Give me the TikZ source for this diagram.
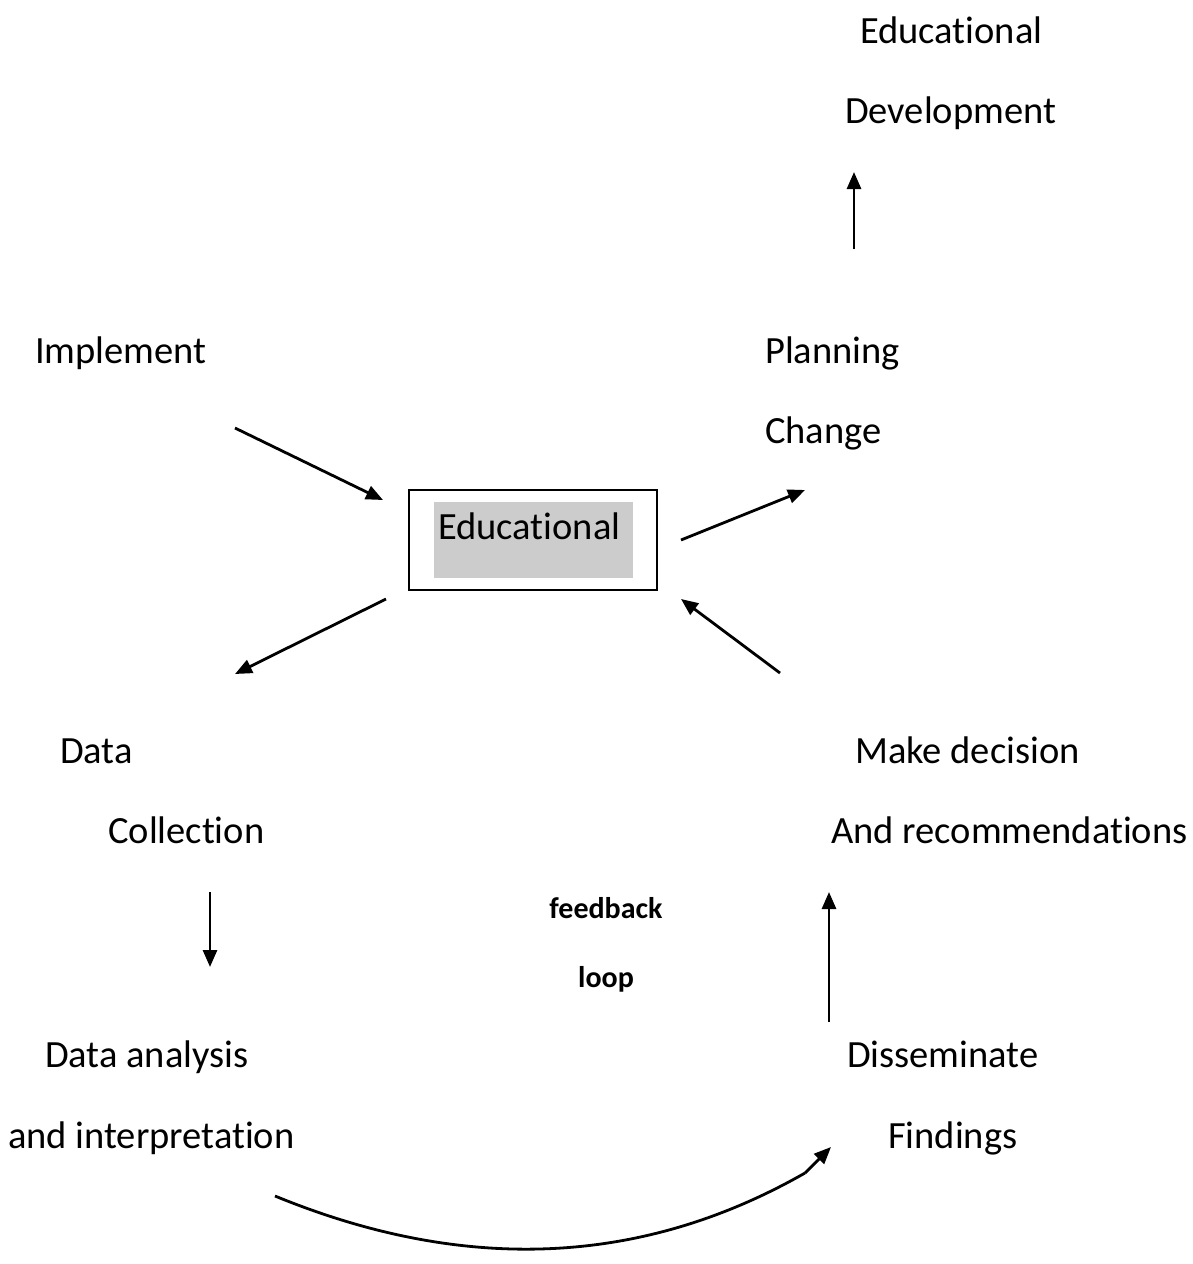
\documentclass[tikz,border=0pt]{standalone}
\usepackage{fontspec}
\setmainfont{Carlito}[Ligatures=NoCommon]
\usetikzlibrary{arrows.meta}
\begin{document}
\begin{tikzpicture}[x=1pt,y=-1pt,
  lbl/.style={anchor=base west,inner sep=0pt,font=\fontsize{38.5}{45}\selectfont},
  fb/.style={anchor=base,inner sep=0pt,font=\fontsize{30}{35}\selectfont\bfseries},
  conn/.style={line width=2.8pt,-{Triangle[length=17pt,width=14pt]}},
  plain/.style={line width=2.8pt}]
\useasboundingbox (0,0) rectangle (1193,1264);
% texts
\node[lbl] (ed1) at (860,43) {Educational};
\node[lbl] (ed2) at (845,123) {Development};
\node[lbl] (impl) at (35,363) {Implement};
\node[lbl] (plan) at (765,363) {Planning};
\node[lbl] (chg) at (765,443) {Change};
\node[lbl] (data) at (60,763) {Data};
\node[lbl] (coll) at (108,843) {Collection};
\node[lbl] (make) at (855,763) {Make decision};
\node[lbl] (andr) at (831,843) {And recommendations};
\node[fb] (feed) at (606,918) {feedback};
\node[fb] (loop) at (606,987) {loop};
\node[lbl] (dana) at (45,1067) {Data analysis};
\node[lbl] (interp) at (8,1148) {and interpretation};
\node[lbl] (diss) at (847,1067) {Disseminate};
\node[lbl] (find) at (888,1148) {Findings};
% central box
\draw[line width=2pt] (409,490) rectangle (657,590);
\fill[black!20] (434,502) rectangle (633,578);
\node[lbl] (box) at (438,539) {Educational};
% arrow coordinates
\coordinate (a1s) at (854,249); \coordinate (a1e) at (854,172);
\coordinate (a2s) at (235,428); \coordinate (a2e) at (383,500);
\coordinate (a3s) at (681,540); \coordinate (a3e) at (805,490);
\coordinate (a4s) at (386,599); \coordinate (a4e) at (235,674);
\coordinate (a5s) at (780,673); \coordinate (a5e) at (681,599);
\coordinate (a6s) at (210,892); \coordinate (a6e) at (210,967);
\coordinate (a7s) at (829,1022); \coordinate (a7e) at (829,892);
\coordinate (cs) at (275,1196); \coordinate (ck) at (805,1173); \coordinate (ce) at (831,1147);
\draw[conn] (a1s) -- (a1e);
\draw[conn] (a2s) -- (a2e);
\draw[conn] (a3s) -- (a3e);
\draw[conn] (a4s) -- (a4e);
\draw[conn] (a5s) -- (a5e);
\draw[conn] (a6s) -- (a6e);
\draw[conn] (a7s) -- (a7e);
\draw[plain] (cs) .. controls (465,1274) and (642,1266) .. (ck);
\draw[conn] (ck) -- (ce);
\end{tikzpicture}
\end{document}
